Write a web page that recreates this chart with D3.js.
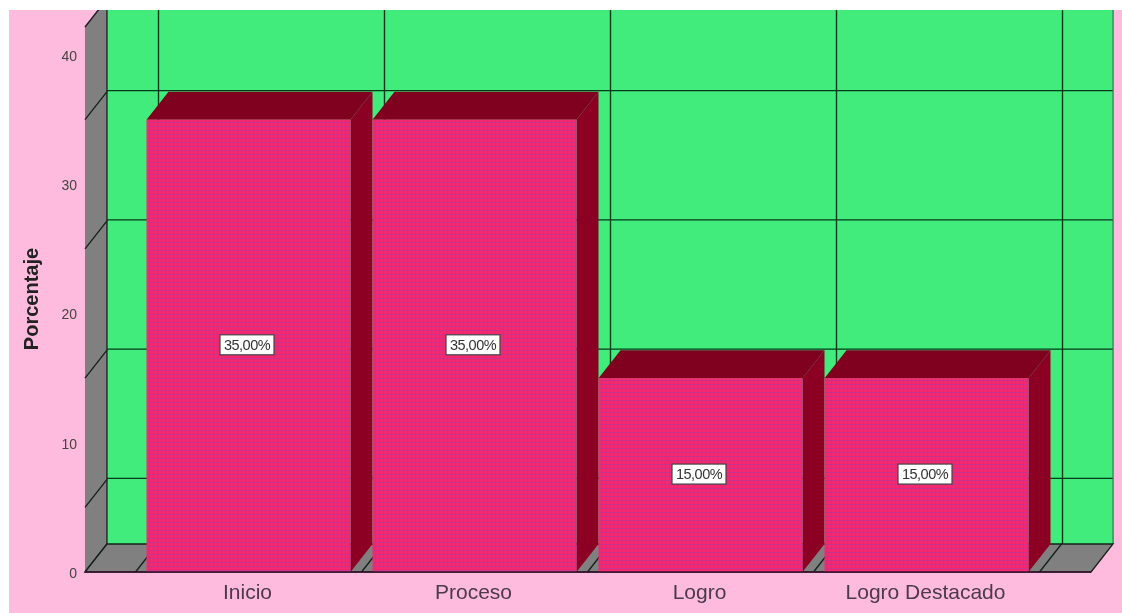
<!DOCTYPE html>
<html><head><meta charset="utf-8">
<script src="https://cdn.jsdelivr.net/npm/d3@7/dist/d3.min.js"></script>
<style>html,body{margin:0;padding:0;background:#fff;overflow:hidden}svg{display:block;filter:blur(0.3px)}text{font-family:"Liberation Sans",Arial,sans-serif}</style>
</head><body><script>
const categories = ["Inicio","Proceso","Logro","Logro Destacado"];
const values = [35,35,15,15];
const valueLabels = ["35,00%","35,00%","15,00%","15,00%"];
const tickValues = [0,10,20,30,40];
const gridValues = [5,15,25,35];
const yTitle = "Porcentaje";

const W=1122,H=613;
const dx=22,dy=-28;
const yBase=572;
const left=85,right=1091;
const cell=4;
const y=d3.scaleLinear().domain([0,40]).range([yBase,55]);
const x=d3.scaleBand().domain(categories).range([135.5,1039.5]).paddingInner(22/226).paddingOuter(11/226);
const edges=categories.map(c=>x(c)-x.step()*(11/226)).concat([x(categories[3])+x.bandwidth()+x.step()*(11/226)]);

const svg=d3.select("body").append("svg").attr("width",W).attr("height",H);
const defs=svg.append("defs");
defs.append("clipPath").attr("id","plot").append("rect").attr("x",0).attr("y",10).attr("width",W).attr("height",H-10);

svg.append("rect").attr("x",9).attr("y",10).attr("width",W-9).attr("height",H-10).attr("fill","#ffbbdd");

const g=svg.append("g").attr("clip-path","url(#plot)");
const line="#07391a";
g.append("rect").attr("x",left+dx+1).attr("y",0).attr("width",right-left).attr("height",yBase+dy).attr("fill","#41ec7d");
g.selectAll(".vg").data(edges).join("line").attr("x1",d=>d+dx+1).attr("x2",d=>d+dx+1).attr("y1",0).attr("y2",yBase+dy).attr("stroke",line).attr("stroke-width",1.4);
g.selectAll(".hg").data(gridValues).join("line").attr("x1",left+dx).attr("x2",right+dx).attr("y1",d=>y(d)+dy-1).attr("y2",d=>y(d)+dy-1).attr("stroke",line).attr("stroke-width",1.4);
g.append("line").attr("x1",right+dx).attr("x2",right+dx).attr("y1",0).attr("y2",yBase+dy).attr("stroke","#3a6a50").attr("stroke-width",1);
const wallTop=y.invert(27);
g.append("path").attr("d",d3.line()([[left,y(wallTop)],[left+dx,y(wallTop)+dy],[left+dx,yBase+dy],[left,yBase]])).attr("fill","#808080").attr("stroke","#1c1c22").attr("stroke-width",1.4);
g.selectAll(".wg").data(gridValues).join("line").attr("x1",left).attr("x2",left+dx).attr("y1",d=>y(d)).attr("y2",d=>y(d)+dy).attr("stroke","#10201a").attr("stroke-width",1.3);
g.append("path").attr("d",d3.line()([[left,yBase],[left+dx,yBase+dy],[right+dx,yBase+dy],[right,yBase]])+"Z").attr("fill","#808080").attr("stroke","#14201a").attr("stroke-width",1.3);
g.selectAll(".fg").data(edges).join("line").attr("x1",d=>d).attr("x2",d=>d+dx).attr("y1",yBase).attr("y2",yBase+dy).attr("stroke","#10201a").attr("stroke-width",1.3);
const rows=values.map((v,i)=>({v,c:categories[i],l:valueLabels[i]}));
const bars=g.selectAll(".bar").data(rows).join("g");
bars.append("path").attr("d",d=>{const x0=x(d.c),x1=x0+x.bandwidth(),t=y(d.v);return d3.line()([[x0,t],[x0+dx,t+dy],[x1+dx,t+dy],[x1,t]])+"Z";}).attr("fill","#80001f");
bars.append("path").attr("d",d=>{const x1=x(d.c)+x.bandwidth(),t=y(d.v);return d3.line()([[x1,t],[x1+dx,t+dy],[x1+dx,yBase+dy],[x1,yBase]])+"Z";}).attr("fill","#8c0024");
bars.append("rect").attr("x",d=>x(d.c)).attr("y",d=>y(d.v)).attr("width",x.bandwidth()).attr("height",d=>yBase-y(d.v)).attr("fill","#f4286e");
// woven texture of the bar faces, snapped to whole pixels
bars.each(function(d){
  const b=d3.select(this).append("g").attr("shape-rendering","crispEdges");
  const x0=Math.round(x(d.c)),x1=Math.round(x(d.c)+x.bandwidth()),t=Math.round(y(d.v));
  b.selectAll(".tv").data(d3.range(x0+2,x1,cell)).join("rect").attr("x",v=>v).attr("y",t).attr("width",1).attr("height",yBase-t).attr("fill","#a93aa8").attr("opacity",.6);
  b.selectAll(".th").data(d3.range(t+2,yBase,cell)).join("rect").attr("x",x0).attr("y",v=>v).attr("width",x1-x0).attr("height",1).attr("fill","#a93aa8").attr("opacity",.6);
});
g.append("line").attr("x1",left).attr("x2",right).attr("y1",yBase).attr("y2",yBase).attr("stroke","#3a1030").attr("stroke-width",1.3);
const lab=svg.selectAll(".lab").data(rows).join("g")
 .attr("transform",d=>`translate(${x(d.c)+x.bandwidth()/2-1.5},${y(d.v/2)-1})`);
lab.append("rect").attr("x",-27).attr("y",-10).attr("width",54).attr("height",20).attr("fill","#fff").attr("stroke","#444").attr("stroke-width",1.2);
lab.append("text").attr("text-anchor","middle").attr("y",5).attr("font-size",14.5).attr("letter-spacing",-0.5).attr("fill","#333").text(d=>d.l);
const ya=svg.append("g").attr("transform",`translate(${left},1)`).call(d3.axisLeft(y).tickValues(tickValues).tickSize(0).tickPadding(8));
ya.select(".domain").remove();
ya.selectAll("text").attr("font-size",14).attr("fill","#444").style("font-family",'"Liberation Sans",Arial,sans-serif');
const xa=svg.append("g").attr("transform",`translate(-1,${yBase})`).call(d3.axisBottom(x).tickSize(0).tickPadding(12));
xa.select(".domain").remove();
xa.selectAll("text").attr("font-size",21).attr("fill","#4a3a4a").style("font-family",'"Liberation Sans",Arial,sans-serif');
svg.append("text").attr("transform","translate(38,299) rotate(-90)").attr("text-anchor","middle").attr("font-size",20).attr("font-weight","bold").attr("fill","#222").text(yTitle);
</script></body></html>
